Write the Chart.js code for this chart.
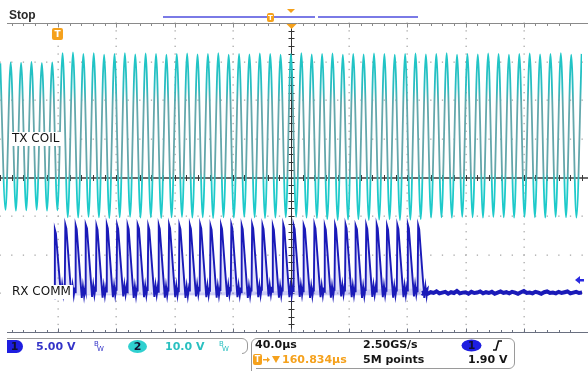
<!DOCTYPE html>
<html><head><meta charset="utf-8">
<script src="https://cdn.jsdelivr.net/npm/chart.js@4.4.1/dist/chart.umd.min.js"></script>
<style>html,body{margin:0;padding:0;background:#fff;}#wrap{width:588px;height:371px;position:relative;}</style>
</head><body><div id="wrap"><canvas id="c" width="588" height="371"></canvas></div>
<script>
// ---- time base: 40 µs/div, 10 divisions; vertical in divisions (8 div) ----
const xRange = [0, 400];
const yRange = [-4, 4];
// TX COIL (ch2) extrema, alternating peak / trough, first at txStart, spaced by txHalfPeriod (µs)
const txStart = 0.22;
const txHalfPeriod = 3.567;
const txPeaks = [2.96,2.98,2.97,2.99,2.96,2.98,3.22,3.24,3.20,3.22,3.18,3.20,3.22,3.19,3.21,3.20,3.18,3.20,3.21,3.19,
                 3.20,3.22,3.18,3.20,3.19,3.21,3.20,3.18,3.20,3.22,3.19,3.20,3.21,3.18,3.20,3.19,3.21,3.20,3.18,3.20,
                 3.21,3.19,3.20,3.22,3.18,3.20,3.19,3.21,3.20,3.18,3.20,3.21,3.19,3.20,3.22,3.18,3.20];
const txTroughs = [-0.84,-0.86,-0.85,-0.84,-0.86,-0.85,-1.03,-1.04,-1.02,-1.03,-1.05,-1.03,-1.02,-1.04,-1.03,-1.05,-1.03,-1.02,-1.04,-1.03,
                   -1.05,-1.03,-1.04,-1.02,-1.03,-1.05,-1.04,-1.03,-1.02,-1.04,-1.05,-1.08,-1.10,-1.09,-1.08,-1.10,-1.09,-1.08,-1.10,-1.09,
                   -1.08,-1.04,-1.03,-1.04,-1.02,-1.03,-1.04,-1.02,-1.03,-1.04,-1.02,-1.03,-1.04,-1.02,-1.03,-1.04];
// RX COMM (ch1): rising edge times (µs), fin tops and bottoms (div)
const rxRise = [37.3,44.5,51.6,58.7,65.9,73.0,80.1,87.3,94.4,101.5,108.7,115.8,122.9,130.1,137.2,144.3,151.5,158.6,
                165.7,172.9,180.0,187.1,194.3,201.4,208.5,215.7,222.8,229.9,237.1,244.2,251.3,258.5,265.6,272.7,279.9,287.0];
const rxTop = [-1.35,-1.22,-1.24,-1.22,-1.25,-1.22,-1.23,-1.24,-1.22,-1.25,-1.23,-1.22,-1.24,-1.23,-1.22,-1.25,-1.23,-1.22,
               -1.24,-1.22,-1.23,-1.25,-1.22,-1.24,-1.23,-1.22,-1.25,-1.23,-1.22,-1.24,-1.23,-1.22,-1.25,-1.23,-1.22,-1.24];
const rxBottom = [-3.08,-3.10,-3.12,-3.09,-3.11,-3.10,-3.08,-3.12,-3.10,-3.09,-3.11,-3.10,-3.12,-3.08,-3.10,-3.11,-3.09,-3.10,
                  -3.12,-3.10,-3.08,-3.11,-3.10,-3.09,-3.12,-3.10,-3.11,-3.08,-3.10,-3.12,-3.09,-3.10,-3.11,-3.10,-3.08,-3.12];
// RX idle level after communication stops (µs, div)
const rxIdleT = [290,292,294,296,298,300,302,304,306,308,310,312,314,316,318,320,322,324,326,328,330,332,334,336,338,340,
                 342,344,346,348,350,352,354,356,358,360,362,364,366,368,370,372,374,376,378,380,382,384,386,388,390,392,394,396,398,400];
const rxIdleV = [-2.99,-2.96,-3.01,-2.97,-2.99,-2.95,-3.00,-2.98,-2.96,-3.01,-2.97,-2.99,-2.94,-3.00,-2.98,-2.97,-3.01,-2.96,-2.99,-2.98,
                 -2.95,-3.00,-2.97,-2.99,-2.96,-3.01,-2.98,-2.95,-2.99,-2.97,-3.00,-2.96,-2.98,-3.01,-2.97,-2.94,-2.99,-2.98,-3.00,-2.96,
                 -2.98,-3.01,-2.97,-2.95,-2.99,-2.98,-3.00,-2.96,-2.99,-2.97,-2.95,-3.00,-2.98,-2.96,-2.99,-2.98];

// ---- build point tables ----
const txPts = [];
for (let i = 0; i < txPeaks.length; i++) {
  txPts.push({x: txStart + 2*i*txHalfPeriod, y: txPeaks[i]});
  if (i < txTroughs.length) txPts.push({x: txStart + (2*i+1)*txHalfPeriod, y: txTroughs[i]});
}
const rxPts = [];
for (let k = 0; k < rxRise.length; k++) {
  const r = rxRise[k], b = rxBottom[k], t = rxTop[k];
  rxPts.push({x: r, y: b + (k===0 ? -0.05 : 0.15)});
  rxPts.push({x: r + 0.4, y: t});
  rxPts.push({x: r + 1.1, y: t - 0.1});
  rxPts.push({x: r + 3.9, y: b + 0.35});
  rxPts.push({x: r + 4.6, y: b});
  rxPts.push({x: r + 5.4, y: b + 0.3});
  rxPts.push({x: r + 6.2, y: b + 0.05});
  rxPts.push({x: r + 6.9, y: b + 0.25});
}
rxPts.push({x: 289.8, y: -3.05});
const rxIdlePts = rxIdleT.map((t, i) => ({x: t, y: rxIdleV[i]}));

const ORANGE = '#f5a11c';
const CH1 = '#1a1ab8';
const CH2 = '#22c4c4';
const FONT = '"DejaVu Sans"';

const scopePlugin = {
  id: 'scope',
  beforeDatasetsDraw(chart) {
    const {ctx, scales: {x, y}} = chart;
    ctx.save();
    ctx.fillStyle = '#a8a8a8';
    for (let d = 1; d < 10; d++) {
      if (d === 5) continue;
      const px = Math.round(x.getPixelForValue(d * 40));
      for (let s = 0; s <= 40; s++) {
        const py = y.getPixelForValue(-4 + s * 0.2);
        ctx.fillRect(px - 0.5, py - 0.5, 1.3, 1.3);
      }
    }
    for (let d = 1; d < 8; d++) {
      if (d === 4) continue;
      const py = Math.round(y.getPixelForValue(-4 + d));
      for (let s = 0; s <= 50; s++) {
        const px = x.getPixelForValue(s * 8);
        ctx.fillRect(px - 0.5, py - 0.5, 1.3, 1.3);
      }
    }
    const cx = Math.round(x.getPixelForValue(200)) + 0.5;
    ctx.strokeStyle = '#333';
    ctx.lineWidth = 1;
    ctx.beginPath();
    ctx.moveTo(cx, y.getPixelForValue(4)); ctx.lineTo(cx, y.getPixelForValue(-4));
    for (let s = 0; s <= 40; s++) {
      const py = Math.round(y.getPixelForValue(-4 + s * 0.2)) + 0.5;
      ctx.moveTo(cx - 3, py); ctx.lineTo(cx + 3, py);
    }
    ctx.stroke();
    const cy = Math.round(y.getPixelForValue(0));
    ctx.strokeStyle = '#3a3a3a';
    ctx.lineWidth = 1.6;
    ctx.beginPath(); ctx.moveTo(0, cy); ctx.lineTo(588, cy); ctx.stroke();
    ctx.lineWidth = 1;
    ctx.beginPath();
    for (let s = 0; s <= 50; s++) {
      const px = Math.round(x.getPixelForValue(s * 8)) + 0.5;
      ctx.moveTo(px, cy - 3); ctx.lineTo(px, cy + 3);
    }
    ctx.stroke();
    const ty = Math.round(y.getPixelForValue(4)) + 0.5;
    ctx.strokeStyle = '#8a8a8a';
    ctx.beginPath(); ctx.moveTo(7, ty); ctx.lineTo(588, ty);
    for (let s = 1; s < 50; s++) {
      const px = Math.round(x.getPixelForValue(s * 8)) + 0.5;
      ctx.moveTo(px, ty); ctx.lineTo(px, ty + (s % 5 === 0 ? 4 : 2.5));
    }
    ctx.stroke();
    const by = Math.round(y.getPixelForValue(-4)) + 0.5;
    ctx.strokeStyle = '#6a7080';
    ctx.beginPath(); ctx.moveTo(7, by); ctx.lineTo(588, by);
    for (let s = 1; s < 50; s++) {
      const px = Math.round(x.getPixelForValue(s * 8)) + 0.5;
      ctx.moveTo(px, by); ctx.lineTo(px, by - (s % 5 === 0 ? 4 : 2.5));
    }
    ctx.stroke();
    ctx.restore();
  },
  afterDatasetsDraw(chart) {
    const {ctx, scales: {x, y}} = chart;
    ctx.save();
    ctx.textBaseline = 'middle';
    ctx.font = '12px ' + FONT;
    const lab = (t, px, py) => {
      const w = ctx.measureText(t).width;
      ctx.fillStyle = '#fff'; ctx.fillRect(px - 2, py - 7, w + 4, 14);
      ctx.fillStyle = '#111'; ctx.fillText(t, px, py);
    };
    lab('TX COIL', 12, 139);
    lab('RX COMM', 12, 292);
    ctx.font = 'bold 12px "Liberation Sans"';
    ctx.fillStyle = '#2a2a2a';
    ctx.fillText('Stop', 9, 16);
    ctx.strokeStyle = '#7a7ae6'; ctx.lineWidth = 2;
    ctx.beginPath(); ctx.moveTo(163, 17); ctx.lineTo(315, 17); ctx.moveTo(318, 17); ctx.lineTo(418, 17); ctx.stroke();
    const tIcon = (px, py, w, h, fs) => {
      ctx.fillStyle = ORANGE;
      ctx.beginPath(); ctx.roundRect(px, py, w, h, 2); ctx.fill();
      ctx.fillStyle = '#fff'; ctx.font = 'bold ' + fs + 'px ' + FONT; ctx.textAlign = 'center';
      ctx.fillText('T', px + w / 2, py + h / 2 + 0.5); ctx.textAlign = 'left';
    };
    tIcon(267, 13, 7, 9, 7);
    ctx.fillStyle = ORANGE;
    ctx.beginPath(); ctx.moveTo(287, 9); ctx.lineTo(295, 9); ctx.lineTo(291, 13); ctx.fill();
    const cx = x.getPixelForValue(200) + 0.5;
    ctx.beginPath(); ctx.moveTo(cx - 5, 24); ctx.lineTo(cx + 5, 24); ctx.lineTo(cx, 29); ctx.fill();
    const trigX = x.getPixelForValue(200 - 160.834);
    tIcon(trigX - 5, 28, 11, 12, 9);
    ctx.fillStyle = '#2a2ae0';
    ctx.beginPath(); ctx.moveTo(575, 280); ctx.lineTo(580, 276); ctx.lineTo(580, 284); ctx.fill();
    ctx.fillRect(579, 279, 5, 2.5);
    // status boxes
    ctx.strokeStyle = '#9a9a9a'; ctx.lineWidth = 1;
    ctx.beginPath(); ctx.moveTo(7, 338.5); ctx.lineTo(242, 338.5); ctx.arcTo(247.5, 338.5, 247.5, 344, 5.5);
    ctx.lineTo(247.5, 348); ctx.arcTo(247.5, 353.5, 242, 353.5, 5.5); ctx.stroke();
    ctx.beginPath(); ctx.moveTo(251.5, 371); ctx.lineTo(251.5, 344); ctx.arcTo(251.5, 338.5, 257, 338.5, 5.5);
    ctx.lineTo(508, 338.5); ctx.arcTo(514.5, 338.5, 514.5, 344, 5.5); ctx.lineTo(514.5, 362); ctx.arcTo(514.5, 368.5, 508, 368.5, 5.5); ctx.lineTo(256, 368.5); ctx.stroke();
    // pills
    ctx.fillStyle = '#1e1ee0';
    ctx.beginPath(); ctx.roundRect(7, 340, 16, 13, [0, 6.5, 6.5, 0]); ctx.fill();
    ctx.fillStyle = '#30d0d0';
    ctx.beginPath(); ctx.ellipse(137.5, 346.5, 9.5, 6.5, 0, 0, Math.PI * 2); ctx.fill();
    ctx.fillStyle = '#1e1ee0';
    ctx.beginPath(); ctx.ellipse(471.5, 345.5, 10, 6, 0, 0, Math.PI * 2); ctx.fill();
    ctx.font = 'bold 11px ' + FONT; ctx.fillStyle = '#101030'; ctx.textAlign = 'center';
    ctx.fillText('1', 14.5, 347); ctx.fillText('2', 137.5, 347); ctx.fillText('1', 471.5, 346);
    ctx.textAlign = 'left';
    ctx.font = 'bold 11px ' + FONT;
    ctx.fillStyle = '#3434c8'; ctx.fillText('5.00 V', 36, 347);
    ctx.fillStyle = '#2ac0c0'; ctx.fillText('10.0 V', 165, 347);
    ctx.font = '7px ' + FONT;
    ctx.fillStyle = '#3434c8'; ctx.fillText('B', 94, 344); ctx.fillText('W', 97, 349);
    ctx.fillStyle = '#2ac0c0'; ctx.fillText('B', 219, 344); ctx.fillText('W', 222, 349);
    ctx.font = 'bold 11px ' + FONT;
    ctx.fillStyle = '#151515';
    ctx.fillText('40.0\u00b5s', 255, 345);
    ctx.fillText('2.50GS/s', 363, 345);
    ctx.fillText('5M points', 363, 360);
    ctx.fillText('1.90 V', 468, 360);
    ctx.strokeStyle = '#111'; ctx.lineWidth = 1.6;
    ctx.beginPath(); ctx.moveTo(493, 350); ctx.lineTo(496, 350); ctx.lineTo(498.5, 341); ctx.lineTo(502, 341); ctx.stroke();
    tIcon(253, 354, 9, 11, 8);
    ctx.fillStyle = ORANGE;
    ctx.fillRect(263, 359, 5, 1.5);
    ctx.beginPath(); ctx.moveTo(267, 357); ctx.lineTo(270, 359.7); ctx.lineTo(267, 362.5); ctx.fill();
    ctx.beginPath(); ctx.moveTo(272, 356); ctx.lineTo(280, 356); ctx.lineTo(276, 363); ctx.fill();
    ctx.font = 'bold 11px ' + FONT;
    ctx.fillText('160.834\u00b5s', 282, 360);
    ctx.restore();
  }
};

function txGradient(context) {
  const chart = context.chart;
  const {ctx, chartArea} = chart;
  if (!chartArea) return CH2;
  const ys = chart.scales.y;
  const g = ctx.createLinearGradient(0, ys.getPixelForValue(3.3), 0, ys.getPixelForValue(-1.1));
  g.addColorStop(0, '#1ec8c8');
  g.addColorStop(0.22, '#28bcc0');
  g.addColorStop(0.32, '#64a8ac');
  g.addColorStop(0.72, '#64a6aa');
  g.addColorStop(0.78, '#1ecaca');
  g.addColorStop(1, '#1ecaca');
  return g;
}

new Chart(document.getElementById('c'), {
  type: 'line',
  data: {
    datasets: [
      {label: 'TX COIL', data: txPts, borderColor: txGradient, borderWidth: 1.8, pointRadius: 0, cubicInterpolationMode: 'monotone', fill: false},
      {label: 'RX COMM', data: rxPts, borderColor: CH1, borderWidth: 1.9, pointRadius: 0, tension: 0,
       fill: {value: -3.05}, backgroundColor: 'rgba(140,140,230,0.25)'},
      {label: 'RX idle', data: rxIdlePts, borderColor: CH1, borderWidth: 4, pointRadius: 0, tension: 0, fill: false}
    ]
  },
  options: {
    responsive: false,
    animation: false,
    events: [],
    layout: {padding: {left: 0, right: 6, top: 23, bottom: 39}},
    plugins: {legend: {display: false}, tooltip: {enabled: false}},
    scales: {
      x: {type: 'linear', min: xRange[0], max: xRange[1], display: false},
      y: {type: 'linear', min: yRange[0], max: yRange[1], display: false}
    }
  },
  plugins: [scopePlugin]
});
</script></body></html>
